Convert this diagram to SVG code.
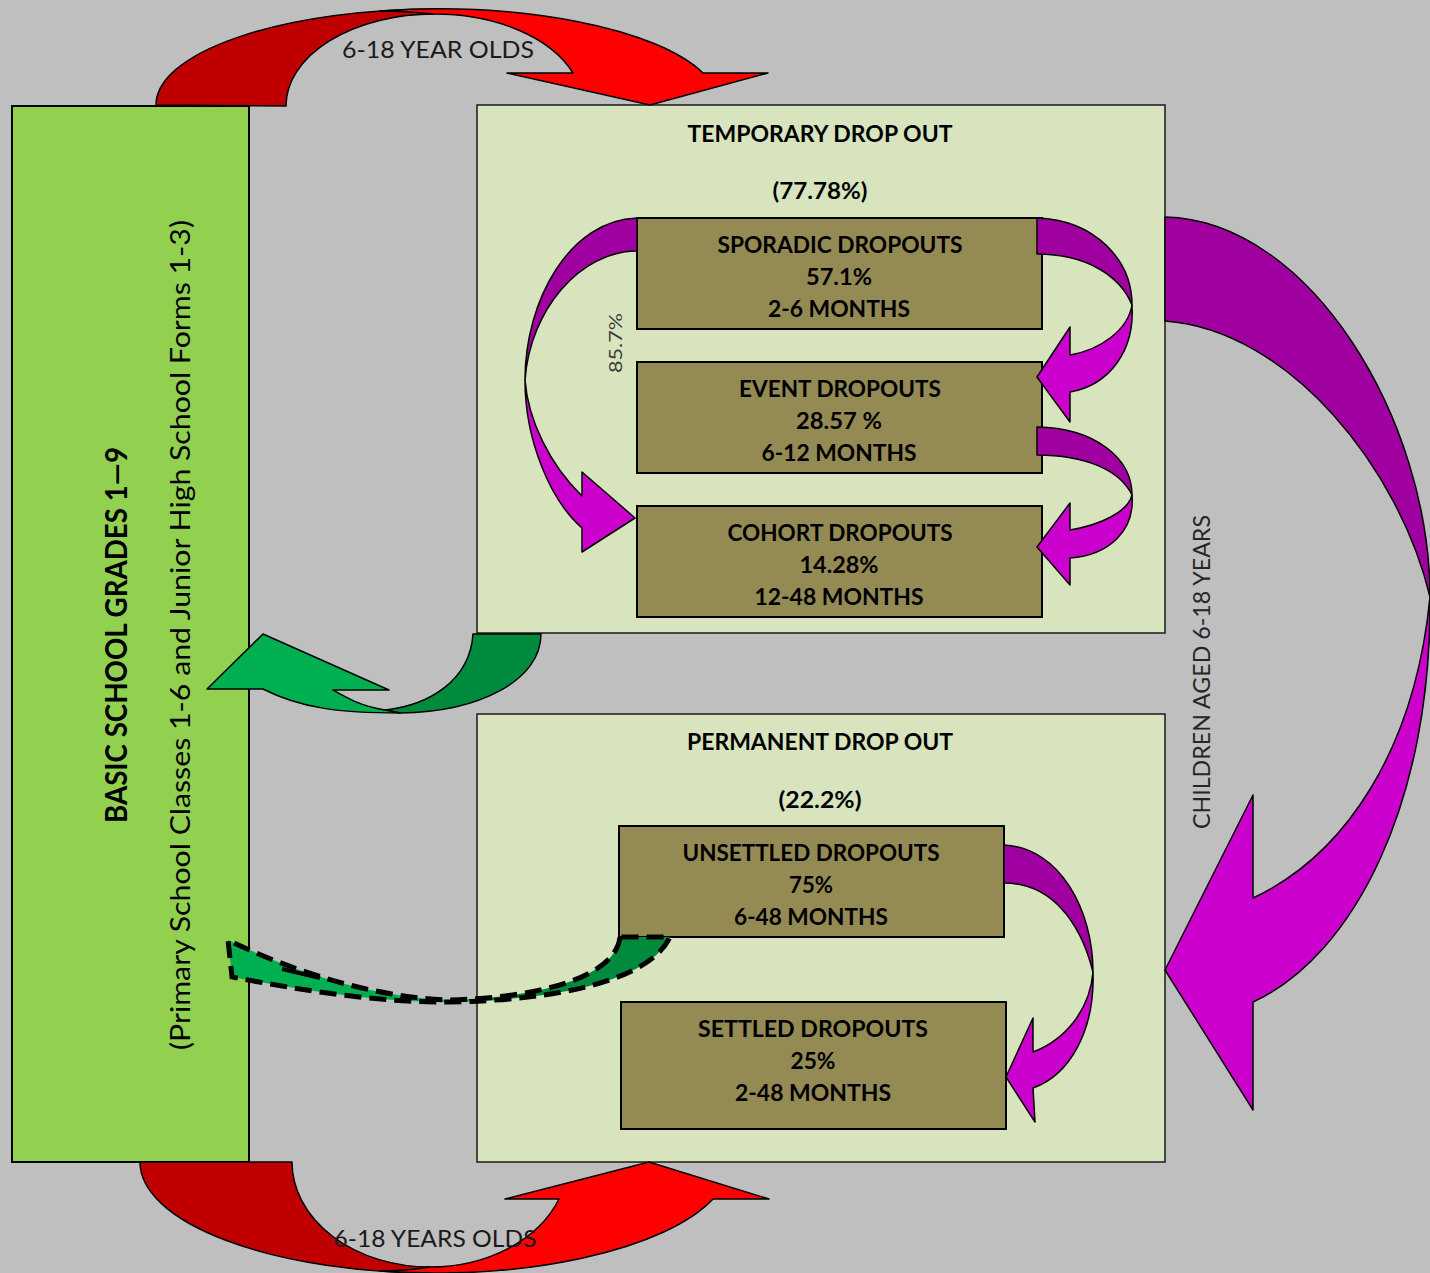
<svg xmlns="http://www.w3.org/2000/svg" width="1430" height="1273" viewBox="0 0 1430 1273">
<defs>
<style>
.bg{fill:#BFBFBF}
.big{fill:#92D050;stroke:#000;stroke-width:2}
.panel{fill:#D7E4BD;stroke:#1a1a1a;stroke-width:1.5}
.item{fill:#948A54;stroke:#000;stroke-width:2}
.t{font-family:Lato,"Liberation Sans",sans-serif;fill:#000}
.b{font-weight:bold;font-size:23px}
.ttl{font-weight:bold;font-size:23px}
.lbl{font-family:Lato,"Liberation Sans",sans-serif;fill:#1a1a1a;font-size:24px}
.dr{fill:#C00000;stroke:#000;stroke-width:1.5;stroke-linejoin:round}
.br{fill:#FF0000;stroke:#000;stroke-width:1.5;stroke-linejoin:round}
.dp{fill:#A000A0;stroke:#000;stroke-width:1.5;stroke-linejoin:round}
.bp{fill:#CC00CC;stroke:#000;stroke-width:1.5;stroke-linejoin:round}
.dg{fill:#008A3E;stroke:#000;stroke-width:1.5;stroke-linejoin:round}
.lg{fill:#00B050;stroke:#000;stroke-width:1.5;stroke-linejoin:round}
</style>
<linearGradient id="gg" gradientUnits="userSpaceOnUse" x1="227" y1="0" x2="670" y2="0">
<stop offset="0.55" stop-color="#00B050"/>
<stop offset="0.55" stop-color="#008A3E"/>
</linearGradient>
</defs>
<rect class="bg" x="0" y="0" width="1430" height="1273"/>

<g id="basic-school">
<rect class="big" x="12" y="106" width="237" height="1056"/>
<text class="t" font-weight="bold" font-size="30" text-anchor="middle" textLength="376" lengthAdjust="spacingAndGlyphs" transform="translate(127,635) rotate(-90)">BASIC SCHOOL GRADES 1—9</text>
<text class="t" font-size="26" text-anchor="middle" textLength="830" lengthAdjust="spacingAndGlyphs" transform="translate(190,635) rotate(-90)">(Primary School Classes 1-6 and Junior  High School Forms  1-3)</text>
</g>

<g id="temporary">
<rect class="panel" x="477" y="105" width="688" height="528"/>
<text class="t ttl" x="820" y="142" text-anchor="middle" textLength="265" lengthAdjust="spacingAndGlyphs">TEMPORARY DROP OUT</text>
<text class="t ttl" x="820" y="199" text-anchor="middle" textLength="95" lengthAdjust="spacingAndGlyphs">(77.78%)</text>
</g>

<g id="sporadic">
<rect class="item" x="637" y="218" width="405" height="111"/>
<text class="t b" x="840" y="253" text-anchor="middle" textLength="245" lengthAdjust="spacingAndGlyphs">SPORADIC DROPOUTS</text>
<text class="t b" x="839" y="285" text-anchor="middle" textLength="66" lengthAdjust="spacingAndGlyphs">57.1%</text>
<text class="t b" x="839" y="317" text-anchor="middle" textLength="142" lengthAdjust="spacingAndGlyphs">2-6 MONTHS</text>
</g>

<g id="event">
<rect class="item" x="637" y="362" width="405" height="111"/>
<text class="t b" x="840" y="397" text-anchor="middle" textLength="202" lengthAdjust="spacingAndGlyphs">EVENT DROPOUTS</text>
<text class="t b" x="839" y="429" text-anchor="middle" textLength="86" lengthAdjust="spacingAndGlyphs">28.57 %</text>
<text class="t b" x="839" y="461" text-anchor="middle" textLength="155" lengthAdjust="spacingAndGlyphs">6-12 MONTHS</text>
</g>

<g id="cohort">
<rect class="item" x="637" y="506" width="405" height="111"/>
<text class="t b" x="840" y="541" text-anchor="middle" textLength="225" lengthAdjust="spacingAndGlyphs">COHORT DROPOUTS</text>
<text class="t b" x="839" y="573" text-anchor="middle" textLength="79" lengthAdjust="spacingAndGlyphs">14.28%</text>
<text class="t b" x="839" y="605" text-anchor="middle" textLength="169" lengthAdjust="spacingAndGlyphs">12-48 MONTHS</text>
</g>

<g id="permanent">
<rect class="panel" x="477" y="714" width="688" height="448"/>
<text class="t ttl" x="820" y="750" text-anchor="middle" textLength="266" lengthAdjust="spacingAndGlyphs">PERMANENT DROP OUT</text>
<text class="t ttl" x="820" y="808" text-anchor="middle" textLength="83" lengthAdjust="spacingAndGlyphs">(22.2%)</text>
</g>

<g id="unsettled">
<rect class="item" x="619" y="826" width="385" height="111"/>
<text class="t b" x="811" y="861" text-anchor="middle" textLength="257" lengthAdjust="spacingAndGlyphs">UNSETTLED DROPOUTS</text>
<text class="t b" x="811" y="893" text-anchor="middle" textLength="44" lengthAdjust="spacingAndGlyphs">75%</text>
<text class="t b" x="811" y="925" text-anchor="middle" textLength="154" lengthAdjust="spacingAndGlyphs">6-48 MONTHS</text>
</g>

<g id="settled">
<rect class="item" x="621" y="1002" width="385" height="127"/>
<text class="t b" x="813" y="1037" text-anchor="middle" textLength="230" lengthAdjust="spacingAndGlyphs">SETTLED  DROPOUTS</text>
<text class="t b" x="813" y="1069" text-anchor="middle" textLength="45" lengthAdjust="spacingAndGlyphs">25%</text>
<text class="t b" x="813" y="1101" text-anchor="middle" textLength="156" lengthAdjust="spacingAndGlyphs">2-48 MONTHS</text>
</g>

<g id="connectors">
<!-- top red arrow -->
<path class="dr" d="M156,105 A281,96 0 0 1 437,9 L434,14 A148,92 0 0 0 286,106 Z"/>
<path class="br" d="M380,11 A281,96 0 0 1 703,73 L768,73 L650,105 L507,73 L573,73 A148,92 0 0 0 434,14 Q405,11 380,11 Z"/>
<text class="lbl" x="438" y="58" text-anchor="middle" textLength="192" lengthAdjust="spacingAndGlyphs">6-18 YEAR OLDS</text>

<!-- bottom red arrow -->
<path class="dr" d="M140,1162 A295,111 0 0 0 435,1273 L430,1267 A138,105 0 0 1 292,1162 Z"/>
<path class="br" d="M380,1271 A295,111 0 0 0 713,1199 L769,1199 L649,1162 L505,1199 L559,1199 A138,105 0 0 1 430,1267 Q405,1271 380,1271 Z"/>
<text class="lbl" x="435" y="1247" text-anchor="middle" textLength="203" lengthAdjust="spacingAndGlyphs">6-18 YEARS OLDS</text>

<!-- green return arrow -->
<path class="dg" d="M473,634 C470,680 430,705 385,710 L400,713 C480,712 541,680 541,634 Z"/>
<path class="lg" d="M385,710 C360,706 345,697 333,690 L389,690 L263,634 L207,689 L263,689 C300,708 340,713 400,713 Z"/>

<!-- dashed green arrow -->
<path d="M620,937 C615,980 530,998 450,1000 C380,998 300,975 228,940 L232,977 C300,990 380,1003 450,1002 C560,1000 650,980 670,937 Z" fill="url(#gg)" stroke="#000" stroke-width="5" stroke-dasharray="17,8"/>
<path d="M282,969 L320,978" fill="none" stroke="#000" stroke-width="4"/>

<!-- sporadic to cohort -->
<path class="dp" d="M637,218 C570,220 525,300 525,380 C530,310 580,251 637,251 Z"/>
<path class="bp" d="M525,380 C525,440 550,500 582,528 L582,552 L635,518 L582,472 L582,496 C550,465 528,420 525,380 Z"/>
<text font-family="Lato,'Liberation Sans',sans-serif" font-size="18" fill="#3a3a3a" text-anchor="middle" textLength="60" lengthAdjust="spacingAndGlyphs" transform="translate(622,343) rotate(-90)">85.7%</text>

<!-- sporadic to event -->
<path class="dp" d="M1037,218 C1095,220 1132,260 1132,305 C1120,275 1085,254 1037,254 Z"/>
<path class="bp" d="M1132,305 C1135,350 1110,385 1070,392 L1070,422 L1037,377 L1070,327 L1070,355 C1100,350 1128,330 1132,305 Z"/>

<!-- event to cohort -->
<path class="dp" d="M1037,427 C1095,428 1132,458 1132,495 C1120,470 1085,455 1037,455 Z"/>
<path class="bp" d="M1132,495 C1135,530 1110,555 1070,558 L1070,585 L1037,547 L1070,503 L1070,530 C1100,525 1128,512 1132,495 Z"/>

<!-- temporary to permanent -->
<path class="dp" d="M1165,217 C1310,220 1430,420 1430,597 C1400,470 1290,330 1165,321 Z"/>
<path class="bp" d="M1430,597 C1432,800 1355,955 1253,1002 L1253,1110 L1165,970 L1253,795 L1253,898 C1345,855 1415,750 1430,597 Z"/>
<text font-family="Lato,'Liberation Sans',sans-serif" font-size="23" fill="#262626" text-anchor="middle" textLength="314" lengthAdjust="spacingAndGlyphs" transform="translate(1210,672) rotate(-90)">CHILDREN AGED  6-18 YEARS</text>

<!-- unsettled to settled -->
<path class="dp" d="M1004,845 C1060,848 1093,910 1093,972 C1080,920 1050,883 1004,883 Z"/>
<path class="bp" d="M1093,972 C1095,1030 1070,1075 1033,1088 L1035,1122 L1006,1077 L1033,1018 L1033,1052 C1065,1040 1090,1010 1093,972 Z"/>
</g>
</svg>
